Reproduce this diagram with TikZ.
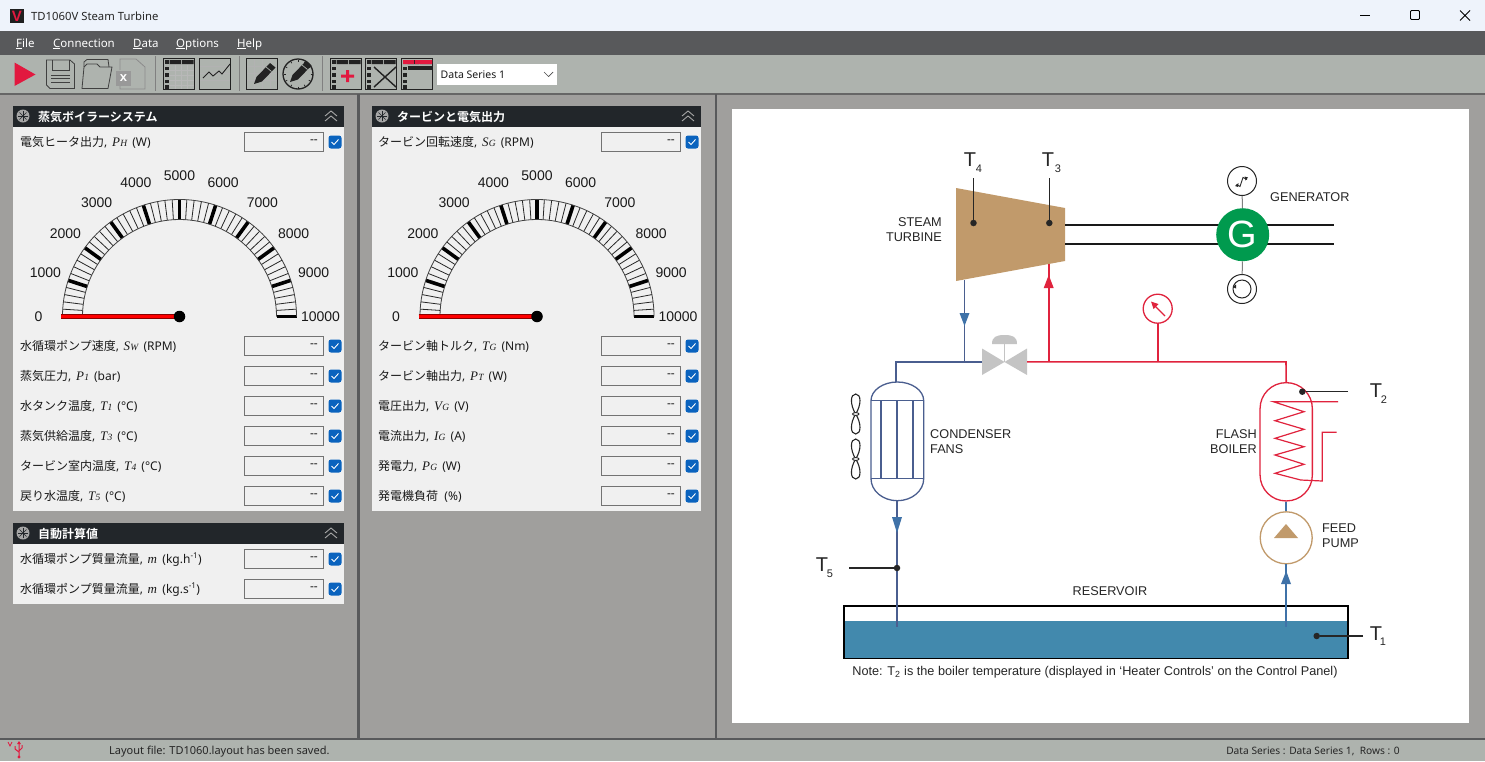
\documentclass[tikz,border=0pt]{standalone}
\usepackage{fontspec}
\setmainfont{Noto Sans}
\newfontfamily\jp{Noto Sans CJK JP}[BoldFont={Noto Sans CJK JP Bold}]
\newfontfamily\dg{Liberation Sans}
\newfontfamily\syf{Liberation Serif}
\definecolor{titlebg}{HTML}{EEF3FB}
\definecolor{menubg}{HTML}{58595B}
\definecolor{toolbg}{HTML}{AEB3AE}
\definecolor{panebg}{HTML}{A09F9D}
\definecolor{headbg}{HTML}{22262A}
\definecolor{bodybg}{HTML}{F0F0F0}
\definecolor{chk}{HTML}{0A63BE}
\definecolor{vred}{HTML}{E2183F}
\definecolor{pipered}{HTML}{E0233D}
\definecolor{pipeblue}{HTML}{4A5E8F}
\definecolor{arrowblue}{HTML}{3F72A8}
\definecolor{tan}{HTML}{C19A6B}
\definecolor{gengreen}{HTML}{009A4E}
\definecolor{water}{HTML}{4289AD}
\definecolor{valvegrey}{HTML}{C4C4C4}
\definecolor{icon}{HTML}{222222}
\tikzset{
 ui/.style={font=\fontsize{12}{14}\selectfont,inner sep=0pt,text=black!90},
 rowlabel/.style={ui,anchor=base west},
 valbox/.style={draw=black!55,fill=bodybg,line width=1pt,minimum width=79pt,minimum height=19pt,inner sep=0pt},
 chkbox/.style={fill=chk,rounded corners=2.5pt,minimum size=13pt,inner sep=0pt},
 headtxt/.style={inner sep=0pt,anchor=base west,text=white,font=\fontsize{12}{14}\selectfont\jp\bfseries},
 dtext/.style={inner sep=0pt,font=\fontsize{12.7}{15}\selectfont\dg,text=black!85},
 tsym/.style={inner sep=0pt,font=\fontsize{20}{22}\selectfont\dg,text=black!85},
 tsub/.style={inner sep=0pt,font=\fontsize{11}{12}\selectfont\dg,text=black!85},
 gaugetxt/.style={inner sep=0pt,font=\fontsize{14}{15}\selectfont\dg,text=black!90},
 redpipe/.style={draw=pipered,line width=1.6pt},
 bluepipe/.style={draw=pipeblue,line width=1.6pt},
 senseline/.style={draw=black!85,line width=1.3pt},
 sensedot/.style={circle,fill=black!85,minimum size=6.5pt,inner sep=0pt},
 iconline/.style={draw=icon,line width=1pt},
 menutxt/.style={inner sep=0pt,anchor=base west,text=white,font=\fontsize{11.5}{13}\selectfont},
}
% symbol with subscript in the value labels
\newcommand{\sy}[2]{\hspace{1.5pt}{\syf\itshape\fontsize{13}{14}\selectfont #1\kern0.3pt\fontsize{9.5}{10}\selectfont #2}\hspace{2pt}}
% row: name, x of label, x of box left, y, label text
\newcommand{\row}[5]{%
 \node[rowlabel] (#1t) at (#2,#4+4) {#5};
 \node[valbox] (#1v) at (#3+40,#4) {};
 \node[ui,anchor=east] (#1d) at (#3+74,#4) {-{}-};
 \node[chkbox] (#1c) at (#3+91,#4) {};
 \draw[white,line width=0.9pt] (#3+87.5,#4) -- (#3+90,#4+2.5) -- (#3+94.5,#4-2.5);
}
% panel header
\newcommand{\phead}[5]{% name, x0, x1, y top, text
 \fill[headbg] (#2,#4) rectangle (#3,#4+21);
 \fill[black!35] (#2+10,#4+10) circle (6.5pt);
 \foreach \a in {0,45,90,135} {\draw[headbg,line width=0.6pt] ({#2+10+5*cos(\a)},{#4+10+5*sin(\a)}) -- ({#2+10-5*cos(\a)},{#4+10-5*sin(\a)});}
 \node[headtxt] (#1) at (#2+25,#4+15) {#5};
 \draw[black!35,line width=0.9pt] (#3-19,#4+10) -- (#3-13,#4+5) -- (#3-7,#4+10);
 \draw[black!35,line width=0.9pt] (#3-19,#4+15) -- (#3-13,#4+10) -- (#3-7,#4+15);
}
% gauge: prefix, centre x, centre y
\newcommand{\gauge}[3]{%
 \foreach \i in {0,...,50} {
  \pgfmathsetmacro\ang{180-3.6*\i}
  \pgfmathtruncatemacro\md{mod(\i,5)}
  \ifnum\md=0
   \draw[black,line width=3.6pt] ({#2+97*cos(\ang)},{#3-97*sin(\ang)}) -- ({#2+117*cos(\ang)},{#3-117*sin(\ang)});
  \else
   \draw[black!85,line width=0.8pt] ({#2+97*cos(\ang)},{#3-97*sin(\ang)}) -- ({#2+117*cos(\ang)},{#3-117*sin(\ang)});
  \fi
 }
 \draw[black!75,line width=0.8pt] (#2-117,#3) arc[start angle=180,end angle=0,radius=117pt];
 \draw[black!75,line width=0.8pt] (#2-97,#3) arc[start angle=180,end angle=0,radius=97pt];
 \foreach \i in {0,...,10} {
  \pgfmathsetmacro\ang{180-18*\i}
  \pgfmathtruncatemacro\val{1000*\i}
  \node[gaugetxt] (#1l\i) at ({#2+141*cos(\ang)},{#3-141*sin(\ang)}) {\val};
 }
 \draw[black!45!red,line width=4.6pt] (#2-118.5,#3) -- (#2,#3);
 \draw[red,line width=3.2pt] (#2-118.5,#3-0.4) -- (#2,#3-0.4);
 \node[circle,fill=black,minimum size=11.5pt,inner sep=0pt] (#1hub) at (#2,#3) {};
}
% table icon: x left
\newcommand{\tblicon}[1]{%
 \draw[iconline,fill=toolbg] (#1,58.5) rectangle (#1+31.5,89.5);
 \fill[icon] (#1+6.5,60) rectangle (#1+18,64) (#1+19,60) rectangle (#1+30.5,64);
 \foreach \yy in {60,66.5,73,79.5,85} {\fill[icon] (#1+1.5,\yy) rectangle (#1+5.5,\yy+3.6);}
}
\newcommand{\tblgrid}[1]{%
 \foreach \yy in {70,75,80,85} {\draw[black!28,line width=0.4pt] (#1+6,\yy) -- (#1+30.5,\yy);}
 \foreach \xx in {12,18,24} {\draw[black!28,line width=0.4pt] (#1+\xx,65) -- (#1+\xx,89);}
}
\newcommand{\pencil}[2]{%
 \begin{scope}[shift={(#1,#2)}]
 \fill[icon] (-11,11) -- (-8.5,4) -- (5,-10) -- (10.5,-5.5) -- (-3,8.5) -- cycle;
 \draw[toolbg,line width=0.7pt] (1,-6) -- (6.5,-1.5);
 \end{scope}
}
\begin{document}
\begin{tikzpicture}[x=1pt,y=-1pt]
\useasboundingbox (0,0) rectangle (1485,761);
% window bands
\fill[panebg] (0,0) rectangle (1485,761);
\fill[titlebg] (0,0) rectangle (1485,31);
\fill[menubg] (0,31) rectangle (1485,55);
\fill[toolbg] (0,55) rectangle (1485,93);
\fill[black!60] (0,92.5) rectangle (1485,94.5);
\fill[menubg] (357,94) rectangle (360,739);
\fill[menubg] (714.5,94) rectangle (717,739);
\fill[toolbg] (0,739) rectangle (1485,761);
\fill[menubg] (0,738) rectangle (1485,739.5);
% title bar
\fill[black!88] (10,9) rectangle (24,23);
\node[inner sep=0pt,text=vred,font=\fontsize{15}{15}\selectfont\dg\bfseries] (logo) at (17,16) {V};
\node[inner sep=0pt,anchor=base west,font=\fontsize{11.3}{13}\selectfont,text=black!85] (title) at (31,20) {TD1060V Steam Turbine};
\draw[black,line width=0.8pt] (1360,15.5) -- (1370,15.5);
\draw[black,line width=0.8pt,rounded corners=1pt] (1410.5,10.5) rectangle (1419.5,19.5);
\draw[black,line width=0.8pt] (1460,10.5) -- (1470,20.5) (1470,10.5) -- (1460,20.5);
% menu
\node[menutxt] (mfile) at (16,47) {\underline{F}ile};
\node[menutxt] (mconn) at (53,47) {\underline{C}onnection};
\node[menutxt] (mdata) at (133,47) {\underline{D}ata};
\node[menutxt] (mopts) at (176,47) {\underline{O}ptions};
\node[menutxt] (mhelp) at (237,47) {\underline{H}elp};
% toolbar
\fill[vred] (14.5,62.5) -- (35.5,74.5) -- (14.5,86) -- cycle;
\draw[black!75,line width=0.8pt] (46.5,60) -- (70,60) -- (74.5,64) -- (74.5,88.5) -- (50,88.5) -- (46.5,85) -- cycle;
\draw[black!75,line width=0.8pt] (52,60) -- (52,70) -- (69,70) -- (69,60);
\foreach \yy in {75,78.5,82} {\draw[black!75,line width=0.8pt] (51,\yy) -- (70,\yy);}
\draw[black!75,line width=0.8pt] (82,88.5) -- (108,88.5) -- (112,67) -- (100,67) -- (97,64) -- (87,64) -- (84,67) -- cycle;
\draw[black!75,line width=0.8pt] (84,67) -- (84,62) -- (87,59.5) -- (108,59.5) -- (109,67);
\draw[black!45,line width=0.8pt] (120,70) -- (120,59) -- (136,59) -- (145,67) -- (145,89) -- (120,89) -- (120,86);
\fill[black!40] (116,71) rectangle (131,86);
\node[inner sep=0pt,text=white,font=\fontsize{13}{13}\selectfont\dg\bfseries] (xls) at (123.5,78) {x};
\foreach \xx in {155,238.5,321.5} {\fill[black!50] (\xx,56) rectangle (\xx+1.2,91);}
\tblicon{163}
\tblgrid{163}
\tblicon{199}
\fill[toolbg] (199.5,59) rectangle (230,89);
\foreach \yy in {66,73,80} {\draw[black!30,line width=0.5pt] (200,\yy) -- (230,\yy);}
\draw[icon,line width=0.9pt] (203,78) -- (209,72) -- (213,76) -- (219,71) -- (222,74) -- (230,64);
\draw[iconline,fill=toolbg] (246,58.5) rectangle (277.5,89.5);
\foreach \yy in {66,73,80} {\draw[black!30,line width=0.5pt] (247,\yy) -- (277,\yy);}
\foreach \xx in {254,262,270} {\draw[black!30,line width=0.5pt] (\xx,59) -- (\xx,89);}
\pencil{265}{73}
\draw[icon,line width=1.3pt,fill=toolbg] (298,74) circle (15pt);
\foreach \a in {0,30,...,330} {\draw[icon,line width=0.7pt] ({298+12.5*cos(\a)},{74+12.5*sin(\a)}) -- ({298+14.5*cos(\a)},{74+14.5*sin(\a)});}
\pencil{301}{71}
\tblicon{330}
\fill[vred] (346,70) rectangle (349,82) (341,74.5) rectangle (354,77.5);
\tblicon{365}
\draw[icon,line width=1.4pt] (374,67) -- (396,87) (396,67) -- (374,87);
\tblicon{401}
\fill[vred] (403,60) rectangle (414,64) (415,60) rectangle (432,64);
\fill[icon] (408,66) rectangle (432,70);
\node[fill=white,minimum width=120pt,minimum height=21pt,inner sep=0pt] (combo) at (496.5,74) {};
\node[ui,anchor=base west,font=\fontsize{10.5}{12}\selectfont] (combot) at (440.5,78) {Data Series 1};
\draw[black!70,line width=0.7pt] (544,72) -- (548.5,76.5) -- (553,72);
% panels
\fill[bodybg] (13,127) rectangle (344,511);
\fill[bodybg] (13,544) rectangle (344,604);
\fill[bodybg] (372,127) rectangle (701,511);
\phead{h1}{13}{344}{106}{蒸気ボイラーシステム}
\phead{h2}{372}{701}{106}{タービンと電気出力}
\phead{h3}{13}{344}{523}{自動計算値}
% rows, panel 1
\row{a0}{20}{244}{142}{{\jp 電気ヒータ出力}, \sy{P}{H} (W)}
\row{a1}{20}{244}{346}{{\jp 水循環ポンプ速度}, \sy{S}{W} (RPM)}
\row{a2}{20}{244}{376}{{\jp 蒸気圧力}, \sy{P}{1} (bar)}
\row{a3}{20}{244}{406}{{\jp 水タンク温度}, \sy{T}{1} (°C)}
\row{a4}{20}{244}{436}{{\jp 蒸気供給温度}, \sy{T}{3} (°C)}
\row{a5}{20}{244}{466}{{\jp タービン室内温度}, \sy{T}{4} (°C)}
\row{a6}{20}{244}{496}{{\jp 戻り水温度}, \sy{T}{5} (°C)}
\row{c1}{20}{244}{559}{{\jp 水循環ポンプ質量流量}, \sy{m}{} (kg.h\textsuperscript{-1})}
\row{c2}{20}{244}{589}{{\jp 水循環ポンプ質量流量}, \sy{m}{} (kg.s\textsuperscript{-1})}
% rows, panel 2
\row{b0}{378}{601}{142}{{\jp タービン回転速度}, \sy{S}{G} (RPM)}
\row{b1}{378}{601}{346}{{\jp タービン軸トルク}, \sy{T}{G} (Nm)}
\row{b2}{378}{601}{376}{{\jp タービン軸出力}, \sy{P}{T} (W)}
\row{b3}{378}{601}{406}{{\jp 電圧出力}, \sy{V}{G} (V)}
\row{b4}{378}{601}{436}{{\jp 電流出力}, \sy{I}{G} (A)}
\row{b5}{378}{601}{466}{{\jp 発電力}, \sy{P}{G} (W)}
\row{b6}{378}{601}{496}{{\jp 発電機負荷}\ \ (\%)}
% gauges
\gauge{ga}{179.5}{316.5}
\gauge{gb}{537}{316.5}
% status bar
\node[inner sep=0pt,anchor=base west,font=\fontsize{11}{13}\selectfont,text=black!85] (stat) at (109,754) {Layout file: TD1060.layout has been saved.};
\node[inner sep=0pt,anchor=base east,font=\fontsize{10.2}{12}\selectfont,text=black!85] (statr) at (1400,754) {Data Series : Data Series 1,\ \ Rows : 0};
\draw[vred,line width=0.7pt] (8,742) -- (10,746) -- (12,742);
\draw[vred,line width=1pt] (19,742) -- (19,756.5) (15,746) -- (15,749) -- (19,752) (22,745) -- (22,748) -- (19,751);
\fill[vred] (19,741) -- (21,744) -- (17,744) -- cycle;
\fill[vred] (19,757) circle (1.6pt);
% === process diagram ===
\fill[white] (732,109) rectangle (1469,723);
% turbine
\fill[tan] (956,188) -- (1065,208) -- (1065,261) -- (956,281) -- cycle;
\coordinate (turbout) at (964.5,280);
\coordinate (turbin) at (1048.7,264);
\coordinate (shaftA) at (1065,225);
\coordinate (shaftB) at (1065,244);
\coordinate (shaftAe) at (1334,225);
\coordinate (shaftBe) at (1334,244);
\draw[black!90,line width=1.3pt] (shaftA) -- (shaftAe) (shaftB) -- (shaftBe);
\node[dtext,align=right,anchor=east] (lturb) at (942,230) {STEAM\\TURBINE};
% generator
\node[circle,draw=black!85,line width=1pt,fill=white,minimum size=29pt,inner sep=0pt] (gtop) at (1242,181) {};
\node[circle,draw=black!85,line width=1pt,fill=white,minimum size=29pt,inner sep=0pt] (gbot) at (1242,289) {};
\node[circle,draw=black!85,line width=1pt,minimum size=18pt,inner sep=0pt] (gbin) at (1242,289) {};
\fill[black!85] (1232.5,287) -- (1236,284.5) -- (1236,288.5) -- cycle;
\node[circle,fill=gengreen,minimum size=53pt,inner sep=0pt,text=white,font=\fontsize{38}{38}\selectfont\dg] (gen) at (1242.7,234.7) {G};
\draw[black!50,line width=1pt] (gtop) -- (gen) (gbot) -- (gen);
\draw[black!85,line width=0.9pt] (1236.5,184.5) -- (1240,186.5) -- (1243,177.5) -- (1247,179.5);
\fill[black!85] (1235,186) -- (1238.5,183) -- (1238,187) -- cycle (1248,177.5) -- (1244.5,176.5) -- (1245.5,180.5) -- cycle;
\node[dtext,anchor=west] (lgen) at (1270,197) {GENERATOR};
% T3 T4
\node[sensedot] (dT4) at (973.5,223) {};
\node[sensedot] (dT3) at (1049.3,223) {};
\coordinate (tT4) at (973.5,178);
\coordinate (tT3) at (1049.3,178);
\draw[senseline] (tT4) -- (dT4);
\draw[senseline] (tT3) -- (dT3);
\node[tsym] (T4) at (970,160) {T};
\node[tsub] (T4s) at (979,169) {4};
\node[tsym] (T3) at (1048,160) {T};
\node[tsub] (T3s) at (1058,169) {3};
% valve
\fill[valvegrey] (982,348.5) -- (1004.5,362) -- (982,375) -- cycle;
\fill[valvegrey] (1027,348.5) -- (1004.5,362) -- (1027,375) -- cycle;
\draw[valvegrey,line width=1.5pt] (1004.5,362) -- (1004.5,342);
\fill[valvegrey] (992,344) .. controls (992,337) and (996,335) .. (1004.5,335) .. controls (1013,335) and (1017,337) .. (1017,344) -- cycle;
\coordinate (valveL) at (982,361.8);
\coordinate (valveR) at (1027,361.8);
\coordinate (teeB) at (964.5,361.8);
\coordinate (cornB) at (896,361.8);
\coordinate (teeR) at (1048.7,361.8);
\coordinate (teeG) at (1157.7,361.8);
\coordinate (cornR) at (1286,361.8);
% condenser
\coordinate (condtop) at (896,382);
\coordinate (condbot) at (897,500.7);
\draw[draw=pipeblue,line width=1.3pt] (871,400.7) arc[start angle=180,end angle=0,x radius=26.35pt,y radius=18.7pt] -- (923.7,478.7) arc[start angle=0,end angle=-180,x radius=26.35pt,y radius=22pt] -- cycle;
\draw[draw=pipeblue,line width=1.1pt] (871,400.7) -- (923.7,400.7) (871,478.7) -- (923.7,478.7) (881,400.7) -- (881,478.7) (897,400.7) -- (897,478.7) (913,400.7) -- (913,478.7);
\node[dtext,align=left,anchor=west] (lcond) at (930,441.5) {CONDENSER\\FANS};
\foreach \h in {414,459} {
 \draw[black!85,line width=1.1pt] (855.7,\h) .. controls (850,\h-9) and (850,\h-20) .. (855.7,\h-20) .. controls (861.4,\h-20) and (861.4,\h-9) .. (855.7,\h);
 \draw[black!85,line width=1.1pt] (855.7,\h) .. controls (850,\h+9) and (850,\h+20) .. (855.7,\h+20) .. controls (861.4,\h+20) and (861.4,\h+9) .. (855.7,\h);
 \draw[black!85,fill=white,line width=0.9pt] (855.7,\h) ellipse (3.3pt and 1.4pt);
}
% boiler & pump
\node[draw=pipered,line width=1.3pt,rounded corners=26pt,minimum width=52.3pt,minimum height=118.3pt,inner sep=0pt] (boiler) at (1286.2,441.8) {};
\draw[draw=pipered,line width=1.2pt] (1338,401.7) -- (1273.3,401.7) -- (1304,411.7) -- (1275,420.7) -- (1304,429.3) -- (1275,438.3) -- (1304,446.7) -- (1275,455) -- (1304,464.3) -- (1275,473.3) -- (1300.7,480) -- (1322.3,481) -- (1322.3,432.3) -- (1336.7,432.3);
\node[dtext,align=right,anchor=east] (lboil) at (1257,441.5) {FLASH\\BOILER};
\node[circle,draw=tan,line width=1.3pt,minimum size=52pt,inner sep=0pt] (pump) at (1286.2,537.8) {};
\fill[tan] (1274,538) -- (1298,538) -- (1286,524) -- cycle;
\node[dtext,align=left,anchor=west] (lpump) at (1322,536) {FEED\\PUMP};
% reservoir
\fill[water] (844,620.7) rectangle (1348,658.7);
\node[draw=black,line width=1.3pt,minimum width=504pt,minimum height=52.7pt,inner sep=0pt] (res) at (1096,632.3) {};
\node[dtext] (lres) at (1110,591) {RESERVOIR};
\coordinate (sinkL) at (897,627);
\coordinate (sinkR) at (1286.2,627);
% pipes
\draw[bluepipe] (turbout) -- (teeB);
\draw[bluepipe] (valveL) -- (cornB) -- (condtop);
\draw[bluepipe] (condbot) -- (sinkL);
\draw[bluepipe,draw=arrowblue] (pump.south) -- (sinkR);
\draw[bluepipe,draw=arrowblue] (boiler.south) -- (pump.north);
\draw[redpipe] (valveR) -- (cornR) -- (boiler.north);
\draw[redpipe] (teeR) -- (turbin);
\node[circle,draw=pipered,line width=1.3pt,fill=white,minimum size=29pt,inner sep=0pt] (gauge) at (1157.7,308.7) {};
\draw[redpipe] (teeG) -- (gauge.south);
\draw[draw=pipered,line width=1.1pt] (1165,316) -- (1154,305);
\fill[pipered] (1151,301.5) -- (1158.5,304) -- (1153.5,309) -- cycle;
% arrowheads
\fill[arrowblue] (959.5,313) -- (969.5,313) -- (964.5,326) -- cycle;
\fill[pipered] (1043.7,288) -- (1053.7,288) -- (1048.7,275) -- cycle;
\fill[arrowblue] (892,517) -- (902,517) -- (897,533) -- cycle;
\fill[arrowblue] (1281,584) -- (1291,584) -- (1286.2,571) -- cycle;
% T5, T2, T1
\node[sensedot] (dT5) at (897,568) {};
\coordinate (tT5) at (849,568);
\draw[senseline] (tT5) -- (dT5);
\node[tsym] (T5) at (822,565) {T};
\node[tsub] (T5s) at (830,574) {5};
\node[sensedot] (dT2) at (1302.3,391.7) {};
\coordinate (tT2) at (1348,391.7);
\draw[senseline] (tT2) -- (dT2);
\node[tsym] (T2) at (1376,391) {T};
\node[tsub] (T2s) at (1384,400) {2};
\node[sensedot] (dT1) at (1316.7,636) {};
\coordinate (tT1) at (1363,636);
\draw[senseline] (tT1) -- (dT1);
\node[tsym] (T1) at (1376,634) {T};
\node[tsub] (T1s) at (1383,642) {1};
% note
\node[dtext,font=\fontsize{12.7}{15}\selectfont\dg] (note) at (1095,672.5) {Note: T\textsubscript{2} is the boiler temperature (displayed in ‘Heater Controls’ on the Control Panel)};
\end{tikzpicture}
\end{document}
